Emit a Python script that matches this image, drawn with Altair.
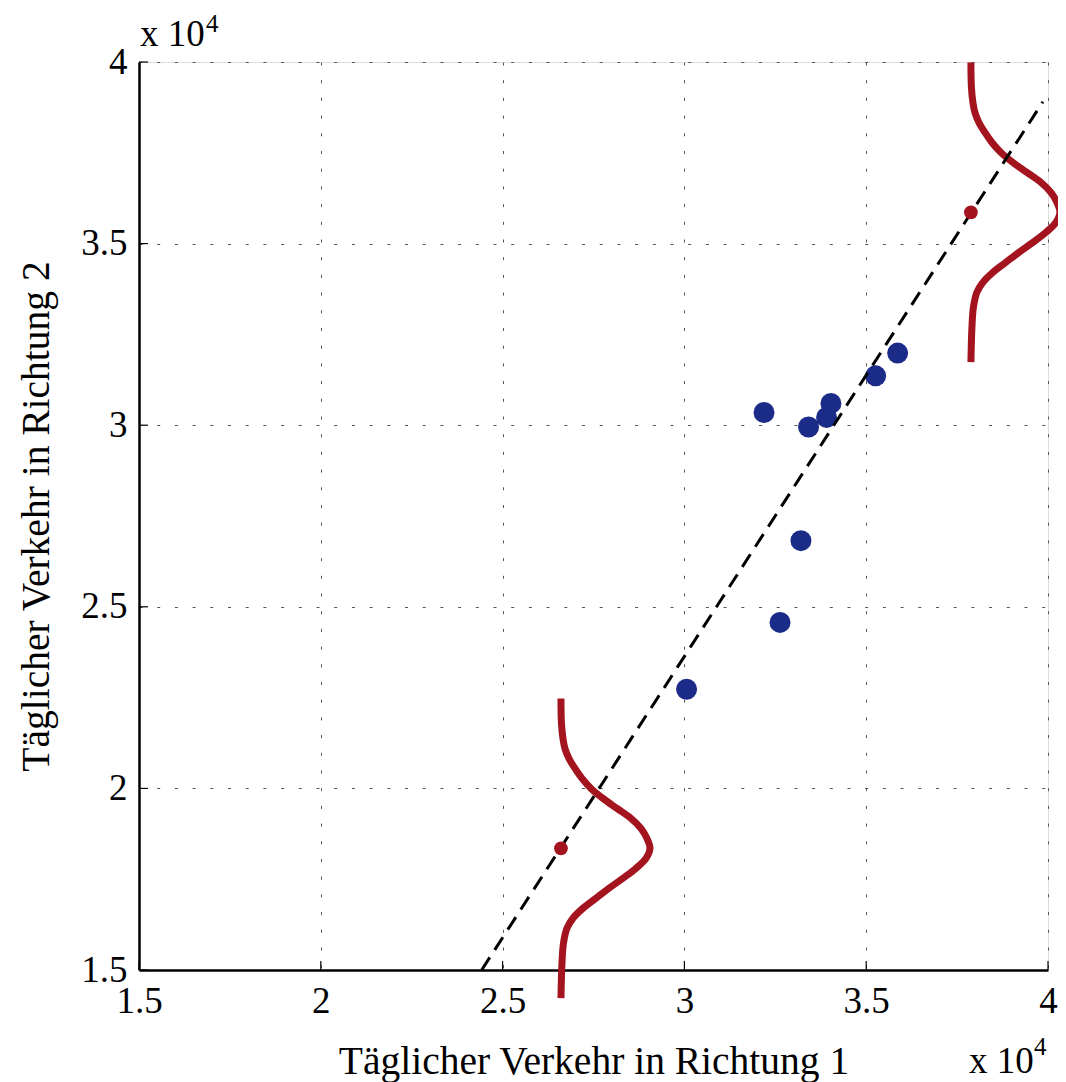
import altair as alt
import pandas as pd

# ---- data ----
tick_values = [15000, 20000, 25000, 30000, 35000, 40000]
tick_labels = ["1.5", "2", "2.5", "3", "3.5", "4"]

blue_x = [30060, 32630, 33205, 32190, 33415, 33910, 34030, 35260, 35865]
blue_y = [22730, 24570, 26820, 30350, 29950, 30215, 30600, 31360, 31985]

red_x = [26605, 37880]
red_y = [18350, 35860]

fit_x = [24425, 39860]
fit_y = [15000, 38905]

# vertical density-curve profile, offsets from the red point
curve_dy = [4125, 3438, 3025, 2750, 2475, 2200, 1925, 1650, 1375, 1100, 825, 550, 275, 0,
            -275, -550, -825, -1100, -1375, -1650, -1925, -2200, -2613, -3163, -4125]
curve_dx = [0, 14, 55, 110, 220, 385, 578, 825, 1155, 1540, 1925, 2200, 2365, 2448,
            2338, 2063, 1705, 1320, 963, 605, 330, 165, 69, 28, 0]

x_title = "Täglicher Verkehr in Richtung 1"
y_title = "Täglicher Verkehr in Richtung 2"

# ---- tables ----
blue_df = pd.DataFrame({"x": blue_x, "y": blue_y})
red_df = pd.DataFrame({"x": red_x, "y": red_y})
fit_df = pd.DataFrame({"x": fit_x, "y": fit_y})
rows = []
for ci, (cx, cy) in enumerate(zip(red_x, red_y)):
    for i, (dy, dx) in enumerate(zip(curve_dy, curve_dx)):
        rows.append({"x": cx + dx, "y": cy + dy, "curve": ci, "order": i})
curve_df = pd.DataFrame(rows)
tick_len = 250
tick_rows = []
for v in tick_values:
    tick_rows.append({"x": v, "x2": v, "y": 15000, "y2": 15000 + tick_len})
    tick_rows.append({"x": 15000, "x2": 15000 + tick_len, "y": v, "y2": v})
tick_df = pd.DataFrame(tick_rows)

label_expr = " : ".join(
    [f"datum.value == {v} ? '{t}'" for v, t in zip(tick_values, tick_labels)]
) + " : ''"

FONT = "Liberation Serif"
W, H = 909, 908
xscale = alt.Scale(domain=[15000, 40000], nice=False, zero=False)
yscale = alt.Scale(domain=[15000, 40000], nice=False, zero=False)
grid_dash = [3, 14.7]

xaxis = alt.Axis(
    values=tick_values, labelExpr=label_expr, labelFont=FONT, labelFontSize=37,
    labelColor="black", labelPadding=13, labelFlush=False, labelOverlap=False,
    ticks=False, domain=True, domainColor="black", domainWidth=2.5,
    grid=True, gridColor="#555555", gridDash=grid_dash, gridWidth=1,
    title=x_title, titleFont=FONT, titleFontSize=39.5, titleFontWeight="normal",
    titleColor="black", titleX=W / 2, titleY=103, titleAlign="center",
    titleBaseline="alphabetic",
)
yaxis = alt.Axis(
    values=tick_values, labelExpr=label_expr, labelFont=FONT, labelFontSize=37,
    labelColor="black", labelPadding=12, labelFlush=False, labelOverlap=False,
    labelBaseline="middle",
    ticks=False, domain=True, domainColor="black", domainWidth=2.5,
    grid=True, gridColor="#555555", gridDash=grid_dash, gridWidth=1,
    title=y_title, titleFont=FONT, titleFontSize=39.5, titleFontWeight="normal",
    titleColor="black", titleX=-91, titleY=H / 2, titleAlign="center",
    titleBaseline="alphabetic", titleAngle=270,
)

def X():
    return alt.X("x:Q", scale=xscale, axis=xaxis)

def Y():
    return alt.Y("y:Q", scale=yscale, axis=yaxis)

BLUE = "#1b2b88"
RED = "#a3141f"

curves = alt.Chart(curve_df).mark_line(
    color=RED, strokeWidth=7, interpolate="catmull-rom"
).encode(x=X(), y=Y(), detail="curve:N", order="order:Q")

blue = alt.Chart(blue_df).mark_circle(color=BLUE, opacity=1, size=440).encode(x=X(), y=Y())

fit = alt.Chart(fit_df).mark_line(
    color="black", strokeWidth=3, strokeDash=[15, 9]
).encode(x=X(), y=Y())

red = alt.Chart(red_df).mark_circle(color=RED, opacity=1, size=190).encode(x=X(), y=Y())

ticks = alt.Chart(tick_df).mark_rule(color="black", strokeWidth=1.2).encode(
    x=X(), x2="x2:Q", y=Y(), y2="y2:Q"
)

one = pd.DataFrame({"t": [0]})

def txt(s, px, py, size):
    return alt.Chart(one).mark_text(
        text=s, font=FONT, fontSize=size, color="black", align="left",
        baseline="alphabetic"
    ).encode(x=alt.value(px), y=alt.value(py))

texts = [
    txt("x 10", 1, -16, 37),
    txt("4", 67, -30, 25),
    txt("x 10", 830, H + 103, 37),
    txt("4", 895, H + 85, 25),
]

chart = alt.layer(ticks, curves, blue, fit, red, *texts).properties(
    width=W, height=H,
    autosize=alt.AutoSizeParams(type="none"),
    padding={"left": 131, "top": 54, "right": 10, "bottom": 112},
).configure_view(stroke=None).configure(background="white")

chart.save("out.html", embed_options={"renderer": "svg", "actions": False})
